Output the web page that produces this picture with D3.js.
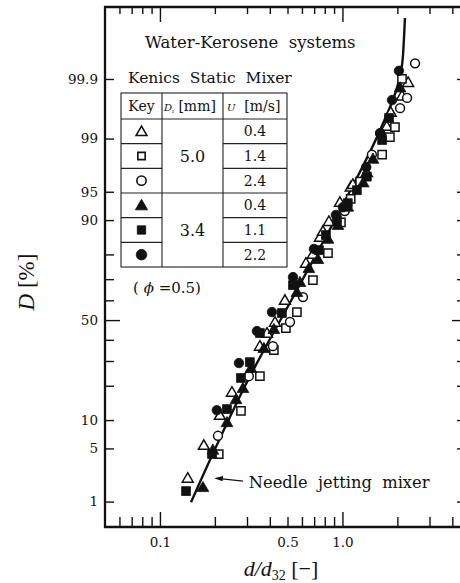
<!DOCTYPE html>
<html>
<head>
<meta charset="utf-8">
<script src="https://cdn.jsdelivr.net/npm/d3@7"></script>
<style>
  body { margin: 0; background: #fff; }
  svg { display: block; }
</style>
</head>
<body>
<svg width="460" height="583"></svg>
<script>
// each point: [d/d32, D %]
const openTriangle = [
  [0.142, 2.08], [0.174, 5.3], [0.213, 10.9], [0.248, 17.5], [0.353, 36.5], [0.386, 42.9],
  [0.427, 48.5], [0.484, 59.6], [0.631, 76.4], [0.689, 79.8], [0.753, 85.3], [0.782, 87.0],
  [0.843, 89.5], [0.969, 93.3], [1.11, 95.5], [1.14, 95.8], [1.36, 97.0], [1.75, 99.33],
  [1.84, 99.60], [2.12, 99.79], [2.29, 99.88]
];
const openSquare = [
  [0.210, 4.3], [0.278, 12.2], [0.353, 23.6], [0.421, 35.0], [0.490, 45.9], [0.563, 54.1],
  [0.689, 69.6], [0.833, 80.5], [0.981, 89.5], [1.11, 94.0], [1.25, 96.2], [1.65, 98.3],
  [1.82, 99.05], [1.94, 99.33], [2.12, 99.90]
];
const openCircle = [
  [0.208, 6.9], [0.307, 23.6], [0.416, 36.9], [0.516, 49.0], [0.608, 61.6], [1.03, 91.9],
  [1.45, 98.3], [1.61, 99.17], [2.07, 99.67], [2.26, 99.78], [2.50, 99.95]
];
const filledTriangle = [
  [0.172, 1.56], [0.195, 4.7], [0.233, 9.3], [0.261, 15.2], [0.285, 18.8], [0.315, 26.5],
  [0.371, 35.5], [0.421, 44.9], [0.563, 63.5], [0.585, 68.2], [0.655, 74.3], [0.734, 77.9],
  [0.833, 84.8], [0.945, 88.6], [1.07, 92.5], [1.30, 96.0], [1.47, 98.0], [2.07, 99.85]
];
const filledSquare = [
  [0.139, 1.42], [0.193, 4.3], [0.233, 12.7], [0.278, 22.9], [0.311, 29.5], [0.353, 43.4],
  [0.466, 53.6], [0.536, 67.3], [0.743, 81.5], [0.812, 86.2], [0.933, 90.0], [1.07, 93.3],
  [1.20, 95.2], [1.36, 96.7], [1.65, 98.95], [1.80, 99.52]
];
const filledCircle = [
  [0.205, 12.4], [0.271, 29.1], [0.340, 44.4], [0.411, 54.1], [0.536, 70.9], [0.698, 81.9],
  [0.921, 91.1], [1.006, 92.6], [1.35, 97.5], [1.61, 99.17], [1.87, 99.76], [2.04, 99.93]
];
// needle jetting mixer curve
const needleLine = [
  [0.148, 0.98], [0.304, 22.1], [0.563, 65.0], [1.06, 94.3], [1.61, 99.26],
  [2.01, 99.87], [2.12, 99.946], [2.17, 99.983], [2.20, 99.9946]
];

const xMinorTicks = [0.06, 0.07, 0.08, 0.09, 0.2, 0.3, 0.4, 0.5, 0.6, 0.7, 0.8, 0.9, 2, 3, 4];
const xMajorTicks = [0.1, 1];
const xTickLabels = [0.1, 0.5, 1.0];
const yTicks = [1, 5, 10, 20, 30, 40, 60, 70, 80, 90, 95, 99, 99.9];
const yLabels = ["1", "5", "10", "50", "90", "95", "99", "99.9"];

// legend table
const keyFilled = [false, false, false, true, true, true];
const keyShape = ["triangle", "square", "circle", "triangle", "square", "circle"];
const keyDi = ["5.0", "3.4"];
const keyU = ["0.4", "1.4", "2.4", "0.4", "1.1", "2.2"];

// inverse normal cdf (Acklam)
function probit(p) {
  const a = [-3.969683028665376e+01, 2.209460984245205e+02, -2.759285104469687e+02, 1.383577518672690e+02, -3.066479806614716e+01, 2.506628277459239e+00];
  const b = [-5.447609879822406e+01, 1.615858368580409e+02, -1.556989798598866e+02, 6.680131188771972e+01, -1.328068155288572e+01];
  const c = [-7.784894002430293e-03, -3.223964580411365e-01, -2.400758277161838e+00, -2.549732539343734e+00, 4.374664141464968e+00, 2.938163982698783e+00];
  const d = [7.784695709041462e-03, 3.224671290700398e-01, 2.445134137142996e+00, 3.754408661907416e+00];
  const pl = 0.02425;
  let q, r;
  if (p < pl) {
    q = Math.sqrt(-2 * Math.log(p));
    return (((((c[0]*q+c[1])*q+c[2])*q+c[3])*q+c[4])*q+c[5]) / ((((d[0]*q+d[1])*q+d[2])*q+d[3])*q+1);
  }
  if (p <= 1 - pl) {
    q = p - 0.5; r = q * q;
    return (((((a[0]*r+a[1])*r+a[2])*r+a[3])*r+a[4])*r+a[5])*q / (((((b[0]*r+b[1])*r+b[2])*r+b[3])*r+b[4])*r+1);
  }
  q = Math.sqrt(-2 * Math.log(1 - p));
  return -(((((c[0]*q+c[1])*q+c[2])*q+c[3])*q+c[4])*q+c[5]) / ((((d[0]*q+d[1])*q+d[2])*q+d[3])*q+1);
}

const svg = d3.select("svg");
const frame = {left: 105, top: 7, right: 470, bottom: 527};
const serif = "DejaVu Serif";
const times = "Liberation Serif";

const x = d3.scaleLog().domain([0.05, 5]).range([frame.left, frame.right]);
const z = d3.scaleLinear().domain([probit(0.004), probit(0.99997)]).range([frame.bottom, frame.top]);
const y = D => z(probit(D / 100));

// frame
svg.append("path")
  .attr("d", `M${frame.right},${frame.top}H${frame.left}V${frame.bottom}H${frame.right}`)
  .attr("fill", "none").attr("stroke", "#111").attr("stroke-width", 2.3);

function styleAxis(g) {
  g.select(".domain").remove();
  g.selectAll("line").attr("stroke", "#111").attr("stroke-width", 1.4);
  g.attr("font-family", serif).attr("font-size", 13.5).attr("fill", "#111");
  g.selectAll("text").attr("fill", "#111");
}

// x axes (bottom + top), ticks inward
svg.append("g").attr("transform", `translate(0,${frame.bottom})`)
  .call(d3.axisBottom(x).tickValues(xMinorTicks).tickSize(-10).tickFormat(""))
  .call(styleAxis);
svg.append("g").attr("transform", `translate(0,${frame.bottom})`)
  .call(d3.axisBottom(x).tickValues(xMajorTicks).tickSize(-15).tickFormat(""))
  .call(styleAxis);
svg.append("g").attr("transform", `translate(0,${frame.bottom})`)
  .call(d3.axisBottom(x).tickValues(xTickLabels).tickSize(0).tickPadding(10)
    .tickFormat(d => d === 1 ? "1.0" : String(d)))
  .call(styleAxis);
svg.append("g").attr("transform", `translate(0,${frame.top})`)
  .call(d3.axisTop(x).tickValues(xMinorTicks).tickSize(-7).tickFormat(""))
  .call(styleAxis);
svg.append("g").attr("transform", `translate(0,${frame.top})`)
  .call(d3.axisTop(x).tickValues(xMajorTicks).tickSize(-15).tickFormat(""))
  .call(styleAxis);

// y axes (probability scale)
const zTicks = yTicks.map(D => probit(D / 100));
svg.append("g").attr("transform", `translate(${frame.left},0)`)
  .call(d3.axisLeft(z).tickValues(zTicks).tickSize(-9).tickFormat(""))
  .call(styleAxis);
svg.append("g").attr("transform", `translate(${frame.left},0)`)
  .call(d3.axisLeft(z).tickValues([0]).tickSize(-15).tickFormat(""))
  .call(styleAxis);
svg.append("g").attr("transform", `translate(${frame.left},0)`)
  .call(d3.axisLeft(z).tickValues(yLabels.map(s => probit(+s / 100))).tickSize(0).tickPadding(7)
    .tickFormat((d, i) => yLabels[i]))
  .call(styleAxis);
svg.append("g").attr("transform", `translate(${frame.right},0)`)
  .call(d3.axisRight(z).tickValues(zTicks).tickSize(-13).tickFormat(""))
  .call(styleAxis);
svg.append("g").attr("transform", `translate(${frame.right},0)`)
  .call(d3.axisRight(z).tickValues([0]).tickSize(-18).tickFormat(""))
  .call(styleAxis);

// axis titles
const yt = svg.append("text")
  .attr("transform", "translate(34,282) rotate(-90)")
  .attr("text-anchor", "middle")
  .attr("font-family", times).attr("font-size", 23).attr("fill", "#111");
yt.append("tspan").attr("font-style", "italic").text("D");
yt.append("tspan").text(" [%]");

const xt = svg.append("text")
  .attr("x", 281).attr("y", 576)
  .attr("text-anchor", "middle")
  .attr("font-family", times).attr("font-size", 22).attr("fill", "#111");
xt.append("tspan").attr("font-style", "italic").text("d/d");
xt.append("tspan").attr("font-size", 14).attr("dy", 4).text("32");
xt.append("tspan").attr("dy", -4).text(" [\u2212]");

// needle jetting mixer line
const line = d3.line().x(d => x(d[0])).y(d => y(d[1])).curve(d3.curveMonotoneY);
svg.append("path").datum(needleLine)
  .attr("d", line)
  .attr("fill", "none").attr("stroke", "#111").attr("stroke-width", 2.4);

// data markers
const symbolTypes = {triangle: d3.symbolTriangle, square: d3.symbolSquare, circle: d3.symbolCircle};
const symbolSizes = {triangle: 52, square: 68, circle: 62};
const series = [
  {data: openTriangle, shape: "triangle", filled: false},
  {data: openSquare, shape: "square", filled: false},
  {data: openCircle, shape: "circle", filled: false},
  {data: filledTriangle, shape: "triangle", filled: true},
  {data: filledSquare, shape: "square", filled: true},
  {data: filledCircle, shape: "circle", filled: true}
];
series.forEach(s => {
  svg.append("g").selectAll("path")
    .data(s.data)
    .join("path")
    .attr("transform", d => `translate(${x(d[0])},${y(d[1])})`)
    .attr("d", d3.symbol(symbolTypes[s.shape], symbolSizes[s.shape] * (s.filled ? 1.15 : 1)))
    .attr("fill", s.filled ? "#111" : "#fff")
    .attr("stroke", "#111")
    .attr("stroke-width", s.filled ? 0.8 : 1.5);
});

// annotation: Needle jetting mixer
const arrowTip = [0.198, 2.14], arrowTail = [0.285, 1.95];
svg.append("line")
  .attr("x1", x(arrowTail[0])).attr("y1", y(arrowTail[1]))
  .attr("x2", x(arrowTip[0]) + 6).attr("y2", y(arrowTip[1]) + 0.5)
  .attr("stroke", "#111").attr("stroke-width", 1.2);
{
  const tx = x(arrowTip[0]), ty = y(arrowTip[1]);
  svg.append("path")
    .attr("d", `M${tx},${ty}L${tx + 9},${ty - 2.2}L${tx + 8.5},${ty + 3}Z`)
    .attr("fill", "#111");
}
svg.append("text")
  .attr("x", x(0.307)).attr("y", 488)
  .attr("font-family", serif).attr("font-size", 16.3).attr("fill", "#111")
  .style("white-space", "pre")
  .text("Needle  jetting  mixer");

// legend block
svg.append("text")
  .attr("x", 145).attr("y", 48)
  .attr("font-family", serif).attr("font-size", 16.5).attr("fill", "#111")
  .style("white-space", "pre")
  .text("Water-Kerosene  systems");
svg.append("text")
  .attr("x", 128).attr("y", 83)
  .attr("font-family", serif).attr("font-size", 15.5).attr("fill", "#111")
  .style("white-space", "pre")
  .text("Kenics  Static  Mixer");

const tbl = {left: 121, c1: 162, c2: 223, right: 287, top: 93, head: 119, bottom: 267};
const rowH = (tbl.bottom - tbl.head) / keyU.length;
const table = svg.append("g").attr("stroke", "#222").attr("stroke-width", 1.1).attr("fill", "none");
table.append("rect")
  .attr("x", tbl.left).attr("y", tbl.top)
  .attr("width", tbl.right - tbl.left).attr("height", tbl.bottom - tbl.top);
table.append("line").attr("x1", tbl.left).attr("x2", tbl.right).attr("y1", tbl.head).attr("y2", tbl.head);
table.append("line").attr("x1", tbl.c1).attr("x2", tbl.c1).attr("y1", tbl.top).attr("y2", tbl.bottom);
table.append("line").attr("x1", tbl.c2).attr("x2", tbl.c2).attr("y1", tbl.top).attr("y2", tbl.bottom);
table.selectAll(".row")
  .data(d3.range(1, keyU.length))
  .join("line")
  .attr("x1", tbl.left)
  .attr("x2", i => i === 3 ? tbl.right : tbl.c1)
  .attr("y1", i => tbl.head + i * rowH).attr("y2", i => tbl.head + i * rowH);
table.selectAll(".row2")
  .data(d3.range(1, keyU.length).filter(i => i !== 3))
  .join("line")
  .attr("x1", tbl.c2).attr("x2", tbl.right)
  .attr("y1", i => tbl.head + i * rowH).attr("y2", i => tbl.head + i * rowH);

const head = svg.append("g").attr("font-family", serif).attr("fill", "#111");
head.append("text").attr("x", (tbl.left + tbl.c1) / 2).attr("y", 111)
  .attr("text-anchor", "middle").attr("font-size", 14).text("Key");
const hd = head.append("text").attr("x", 164).attr("y", 111).attr("font-size", 14);
hd.append("tspan").attr("font-style", "italic").attr("font-size", 10).text("D");
hd.append("tspan").attr("font-size", 6).attr("dy", 2).text("i");
hd.append("tspan").attr("dy", -2).text(" [mm]");
const hu = head.append("text").attr("x", 227).attr("y", 111).attr("font-size", 14)
  .style("white-space", "pre");
hu.append("tspan").attr("font-style", "italic").attr("font-size", 10).text("U");
hu.append("tspan").text("  [m/s]");

const body = svg.append("g").attr("font-family", serif).attr("fill", "#111");
body.selectAll(".u")
  .data(keyU)
  .join("text")
  .attr("x", (tbl.c2 + tbl.right) / 2)
  .attr("y", (d, i) => tbl.head + (i + 0.5) * rowH + 5)
  .attr("text-anchor", "middle").attr("font-size", 14)
  .text(d => d);
body.selectAll(".di")
  .data(keyDi)
  .join("text")
  .attr("x", (tbl.c1 + tbl.c2) / 2)
  .attr("y", (d, i) => tbl.head + (i * 3 + 1.5) * rowH + 6)
  .attr("text-anchor", "middle").attr("font-size", 16)
  .text(d => d);
const keySizes = {triangle: 50, square: 54, circle: 68};
svg.append("g").selectAll("path")
  .data(keyShape)
  .join("path")
  .attr("transform", (d, i) => `translate(${(tbl.left + tbl.c1) / 2},${tbl.head + (i + 0.5) * rowH + (d === "triangle" ? 1 : 0)})`)
  .attr("d", (d, i) => d3.symbol(symbolTypes[d], keySizes[d] * (keyFilled[i] ? 1.3 : 1))())
  .attr("fill", (d, i) => keyFilled[i] ? "#111" : "#fff")
  .attr("stroke", "#111")
  .attr("stroke-width", (d, i) => keyFilled[i] ? 0.8 : 1.6);

const phi = svg.append("text")
  .attr("x", 133).attr("y", 293)
  .attr("font-family", serif).attr("font-size", 15).attr("fill", "#111");
phi.append("tspan").text("( ");
phi.append("tspan").attr("font-style", "italic").text("\u03d5");
phi.append("tspan").text(" =0.5)");
</script>
</body>
</html>
